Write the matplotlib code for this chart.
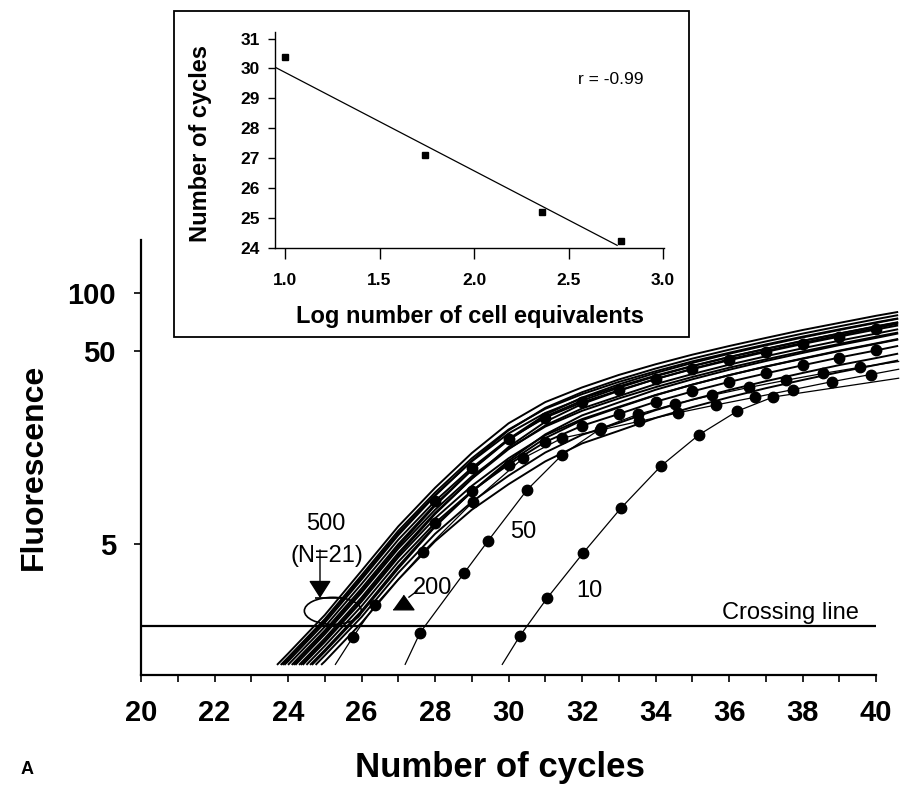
import numpy as np
import matplotlib
matplotlib.use("Agg")
import matplotlib.pyplot as plt
from matplotlib.patches import Ellipse, Rectangle
from matplotlib.transforms import ScaledTranslation
from matplotlib.ticker import NullLocator

plt.rcParams['font.family'] = ['Liberation Sans', 'DejaVu Sans']

# ------------------------------------------------------------------ data
# inset: crossing cycle vs log number of cell equivalents
inset_log_cells = [1.0, 1.74, 2.36, 2.78]
inset_cycles = [30.37, 27.1, 25.2, 24.23]
fit_slope = -3.29
fit_intercept = 33.16
fit_x_range = [0.947, 2.757]
inset_r_label = "r = -0.99"
inset_xticks = [1.0, 1.5, 2.0, 2.5, 3.0]
inset_yticks = [24, 25, 26, 27, 28, 29, 30, 31]

# main panel
main_xticks = [20, 22, 24, 26, 28, 30, 32, 34, 36, 38, 40]
main_minor_xticks = [21, 23, 25, 27, 29, 31, 33, 35, 37, 39]
main_yticks = [5, 50, 100]
crossing_level = 1.88

read_cycles = [24, 25, 26, 27, 28, 29, 30, 31, 32, 33, 34, 35, 36, 37, 38, 39, 40, 40.6]

# 500 cell-equivalent replicates: first cycle visible, then fluorescence at
# that cycle followed by the values at the later read_cycles
rep500_start = [23.7, 23.8, 23.85, 23.9, 24.0, 24.1, 24.15, 24.2, 24.3, 24.35,
                24.4, 24.5, 24.6, 24.65, 24.75, 24.9]
rep500_values = [
    [1.18, 1.35, 2.14, 3.63, 6.17, 9.77, 14.8, 21.1, 27.2, 32.4, 37.6, 42.7, 47.9, 53.1, 58.5, 64.3, 70.0, 76.2, 79.8],
    [1.18, 1.29, 2.04, 3.44, 5.85, 9.24, 13.9, 19.6, 25.1, 29.9, 34.6, 39.3, 44.2, 49.0, 54.1, 59.4, 64.8, 70.5, 73.9],
    [1.18, 1.26, 2.00, 3.35, 5.69, 8.97, 13.4, 18.7, 23.9, 28.4, 32.8, 37.3, 41.9, 46.6, 51.4, 56.5, 61.6, 67.1, 70.3],
    [1.18, 1.23, 1.95, 3.27, 5.55, 8.88, 13.5, 19.4, 25.4, 30.6, 35.6, 40.6, 45.7, 50.8, 56.1, 61.6, 67.2, 73.2, 76.8],
    [1.18, 1.86, 3.10, 5.26, 8.34, 12.4, 17.5, 22.6, 27.1, 31.3, 35.8, 40.3, 44.8, 49.5, 54.4, 59.4, 64.7, 67.9],
    [1.18, 1.78, 2.94, 4.99, 8.02, 12.1, 17.3, 22.9, 27.7, 32.3, 37.0, 41.7, 46.5, 51.3, 56.4, 61.7, 67.2, 70.6],
    [1.18, 1.74, 2.86, 4.86, 7.89, 12.1, 17.5, 23.4, 28.7, 33.6, 38.5, 43.4, 48.4, 53.5, 58.8, 64.3, 70.0, 73.6],
    [1.18, 1.70, 2.79, 4.73, 7.52, 11.2, 15.6, 20.3, 24.5, 28.4, 32.5, 36.7, 41.0, 45.3, 49.8, 54.5, 59.4, 62.4],
    [1.18, 1.62, 2.64, 4.49, 7.24, 10.9, 15.5, 20.6, 25.2, 29.2, 33.7, 38.0, 42.5, 47.0, 51.7, 56.6, 61.6, 64.9],
    [1.18, 1.58, 2.57, 4.37, 7.14, 10.9, 15.9, 21.5, 26.6, 31.1, 35.8, 40.5, 45.3, 50.1, 55.1, 60.4, 65.8, 69.3],
    [1.18, 1.55, 2.51, 4.26, 6.79, 10.0, 13.9, 18.3, 22.2, 25.7, 29.6, 33.5, 37.5, 41.5, 45.6, 50.0, 54.5, 57.4],
    [1.18, 1.48, 2.38, 4.04, 6.42, 9.41, 12.9, 16.9, 20.5, 23.6, 27.3, 30.9, 34.6, 38.3, 42.2, 46.3, 50.4, 53.2],
    [1.18, 1.41, 2.25, 3.83, 6.22, 9.32, 13.2, 17.7, 21.9, 25.5, 29.5, 33.5, 37.5, 41.6, 45.8, 50.3, 54.8, 57.8],
    [1.18, 1.38, 2.20, 3.73, 6.14, 9.35, 13.5, 18.5, 23.2, 27.1, 31.5, 35.7, 40.0, 44.4, 48.9, 53.7, 58.5, 61.7],
    [1.18, 1.32, 2.09, 3.54, 5.64, 8.26, 11.3, 14.9, 18.4, 21.2, 24.7, 28.0, 31.4, 34.9, 38.5, 42.3, 46.0, 48.5],
    [1.18, 1.23, 1.95, 3.27, 5.16, 7.52, 10.2, 13.4, 16.6, 19.3, 22.5, 25.6, 28.8, 32.1, 35.4, 38.9, 42.4, 44.7],
]
rep500_dotted = [False, False, False, False, True, False, False, False, False, False,
                 False, True, False, False, False, False]
rep500_dot_from = 28

curve200_cycles = [25.28, 25.77, 26.37, 27.67, 29.03, 30.39, 31.46, 32.5, 33.55, 34.6, 35.65, 36.7, 37.75, 38.8, 39.85, 40.63]
curve200_fluor = [1.18, 1.65, 2.41, 4.54, 8.25, 13.9, 17.7, 19.5, 21.6, 23.9, 26.3, 28.8, 31.6, 34.7, 37.8, 40.3]

curve50_cycles = [27.18, 27.59, 28.79, 29.44, 30.50, 31.46, 32.52, 33.52, 34.53, 35.54, 36.54, 37.55, 38.56, 39.56, 40.63]
curve50_fluor = [1.18, 1.73, 3.53, 5.18, 9.52, 14.5, 19.9, 23.5, 26.6, 29.5, 32.4, 35.3, 38.3, 41.2, 44.2]

curve10_cycles = [29.82, 30.31, 31.05, 32.03, 33.06, 34.15, 35.18, 36.22, 37.2, 40.63]
curve10_fluor = [1.18, 1.67, 2.62, 4.49, 7.68, 12.7, 18.4, 24.4, 28.9, 36.2]

# ------------------------------------------------------------------ figure
W, H, DPI = 906, 794, 100
fig = plt.figure(figsize=(W / DPI, H / DPI), dpi=DPI)


def fx(px):
    return px / W


def fy(py):
    return 1 - py / H


ax = fig.add_axes([fx(141), fy(675), fx(900) - fx(141), fy(240) - fy(675)])
ax.set_yscale('log')
ax.set_xlim(20, 40.65)
ax.set_ylim(1.046, 188.3)
for s in ['top', 'right']:
    ax.spines[s].set_visible(False)
ax.spines['bottom'].set_bounds(20, 40)
ax.spines['left'].set_linewidth(1.6)
ax.spines['bottom'].set_linewidth(1.6)

ax.set_xticks(main_xticks)
ax.set_xticks(main_minor_xticks, minor=True)
ax.set_yticks(main_yticks, [str(v) for v in main_yticks])
ax.yaxis.set_minor_locator(NullLocator())
ax.tick_params(axis='x', which='both', direction='out', length=5, width=1.2, pad=12, labelsize=21)
ax.tick_params(axis='y', which='both', direction='out', length=5, width=1.2, pad=13, labelsize=21)
for lbl in ax.get_xticklabels() + ax.get_yticklabels():
    lbl.set_fontweight('bold')

bundle_kw = dict(color='black', lw=1.4, solid_capstyle='butt')
line_kw = dict(color='black', lw=0.9, solid_capstyle='butt')
dot_kw = dict(linestyle='none', marker='o', ms=7.5, color='black')

for start, vals, dotted in zip(rep500_start, rep500_values, rep500_dotted):
    xs = [start] + [c for c in read_cycles if c > start]
    ax.plot(xs, vals, **bundle_kw)
    if dotted:
        mx = [x for x in xs if float(x).is_integer() and x >= rep500_dot_from]
        my = [v for x, v in zip(xs, vals) if float(x).is_integer() and x >= rep500_dot_from]
        ax.plot(mx, my, **dot_kw)

for cx, cy in [(curve200_cycles, curve200_fluor), (curve50_cycles, curve50_fluor),
               (curve10_cycles, curve10_fluor)]:
    ax.plot(cx, cy, **line_kw)
    ax.plot(cx[1:-1], cy[1:-1], **dot_kw)

# crossing line
ax.hlines(crossing_level, main_xticks[0], main_xticks[-1], color='black', lw=1.6)

ann = dict(color='black', fontsize=17, ha='center', va='baseline')
ax.text(37.66, 2.04, 'Crossing line', **ann)
ax.text(25.03, 5.90, '500', **ann)
ax.text(25.06, 4.03, '(N=21)', **ann)
ax.text(27.92, 2.75, '200', **ann)
ax.text(30.39, 5.37, '50', **ann)
ax.text(32.19, 2.65, '10', **ann)

# 500 arrow + ellipse
ax.annotate('', xy=(24.87, 2.62), xytext=(24.87, 4.66),
            arrowprops=dict(arrowstyle='-|>,head_length=1.1,head_width=0.7',
                            color='black', lw=1.0, shrinkA=0, shrinkB=0,
                            mutation_scale=10))
ax.hlines(2.62, 24.73, 25.47, color='black', lw=1.2)
ell = Ellipse((0, 0), width=0.57, height=0.27, fill=False, ec='black', lw=1.2,
              transform=fig.dpi_scale_trans + ScaledTranslation(25.22, 2.25, ax.transData))
ax.add_artist(ell)

# 200 pointer
ax.plot([27.51, 27.29], [2.85, 2.65], color='black', lw=1.0)
ax.plot([27.13], [2.49], linestyle='none', color='black', ms=15,
        marker=[(-1, -0.7), (1, -0.7), (0, 0.7)])

# axis labels
fig.text(fx(34), fy(467), 'Fluorescence', rotation=90, ha='center', va='center',
         fontsize=23, fontweight='bold')
fig.text(fx(500), fy(768), 'Number of cycles', ha='center', va='center',
         fontsize=25, fontweight='bold')
fig.text(fx(27), fy(770), 'A', ha='center', va='center', fontsize=13, fontweight='bold')

# ------------------------------------------------------------------ inset
frame = Rectangle((fx(174), fy(337)), fx(689) - fx(174), fy(11) - fy(337),
                  transform=fig.transFigure, facecolor='white', edgecolor='black',
                  lw=1.3, zorder=2)
fig.add_artist(frame)

ax2 = fig.add_axes([fx(275), fy(248), fx(664) - fx(275), fy(31.7) - fy(248)], zorder=3)
ax2.patch.set_alpha(0)
ax2.set_xlim(0.947, 3.005)
ax2.set_ylim(24, 31.23)
for s in ['top', 'right']:
    ax2.spines[s].set_visible(False)
for s in ['left', 'bottom']:
    ax2.spines[s].set_linewidth(1.0)
ax2.set_xticks(inset_xticks, [f'{v:.1f}' for v in inset_xticks])
ax2.set_yticks(inset_yticks, [str(v) for v in inset_yticks])
ax2.tick_params(axis='x', direction='out', length=8, width=1.0, pad=10, labelsize=12.5)
ax2.tick_params(axis='y', direction='out', length=5, width=1.0, pad=6, labelsize=12.5)
for lbl in ax2.get_xticklabels() + ax2.get_yticklabels():
    lbl.set_fontweight('bold')

ax2.plot(inset_log_cells, inset_cycles, linestyle='none', marker='s', ms=5, color='black')
fx_line = np.array(fit_x_range)
ax2.plot(fx_line, fit_intercept + fit_slope * fx_line, color='black', lw=0.9)
ax2.text(2.725, 29.62, inset_r_label, ha='center', va='center', fontsize=12.5)

fig.text(fx(470), fy(317), 'Log number of cell equivalents', ha='center', va='center',
         fontsize=17, fontweight='bold')
fig.text(fx(201), fy(144), 'Number of cycles', rotation=90, ha='center', va='center',
         fontsize=17, fontweight='bold')

fig.savefig('out.png', dpi=DPI)
